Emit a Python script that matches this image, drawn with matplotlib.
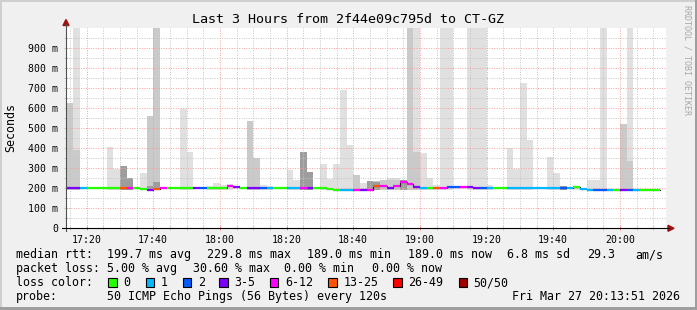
import numpy as np
import matplotlib.pyplot as plt
from matplotlib.patches import Rectangle, Polygon
from matplotlib.lines import Line2D

# 2-minute steps, minutes after midnight (17:14 .. 20:12)
times = np.arange(17 * 60 + 14, 20 * 60 + 12, 2)

median = [200, 200, 200, 200, 200, 200, 200, 200, 200, 200,
          200, 197, 190, 197, 200, 200, 200, 200, 200, 200,
          200, 200, 200, 200, 211, 206, 200, 200, 200, 200,
          200, 200, 200, 200, 200, 200, 200, 200, 200, 197,
          193, 191, 191, 191, 193, 193, 213, 213, 203, 213,
          231, 223, 208, 203, 203, 203, 203, 208, 208, 208,
          206, 203, 203, 203, 203, 203, 203, 203, 203, 203,
          203, 203, 203, 203, 203, 203, 208, 196, 193, 193,
          193, 193, 193, 193, 193, 193, 193, 193, 193]

loss = [3, 3, 1, 0, 0, 0, 0, 0, 5, 4,
        0, 0, 3, 5, 4, 0, 0, 0, 0, 3,
        2, 0, 0, 0, 4, 3, 0, 3, 3, 2,
        1, 0, 0, 1, 1, 4, 3, 0, 0, 0,
        0, 1, 1, 4, 3, 4, 5, 4, 3, 4,
        4, 4, 3, 1, 0, 5, 4, 2, 2, 4,
        3, 3, 2, 1, 0, 0, 1, 1, 1, 1,
        1, 1, 1, 1, 2, 1, 0, 1, 1, 2,
        2, 1, 0, 3, 2, 1, 0, 0, 0]

smoke_light = [0, 1000, 0, 0, 0, 0, 405, 296, 0, 0,
               0, 275, 0, 0, 0, 0, 0, 596, 382, 0,
               0, 210, 226, 215, 222, 0, 0, 0, 0, 215,
               210, 0, 0, 292, 242, 0, 0, 0, 319, 248,
               319, 692, 417, 0, 228, 0, 0, 0, 252, 252,
               0, 0, 1000, 378, 253, 214, 1000, 1000, 0, 0,
               1000, 1000, 1000, 218, 0, 0, 403, 296, 725, 442,
               0, 0, 358, 277, 0, 0, 211, 0, 240, 240,
               1000, 0, 0, 0, 1000, 0, 0, 0, 0]

smoke_mid = [625, 390, 0, 0, 0, 0, 0, 0, 0, 0,
             0, 0, 560, 1000, 0, 0, 0, 0, 0, 0,
             0, 0, 0, 0, 0, 0, 0, 535, 351, 0,
             0, 0, 0, 0, 0, 0, 0, 0, 0, 0,
             0, 0, 0, 268, 0, 0, 237, 240, 242, 240,
             0, 1000, 380, 0, 0, 0, 0, 0, 0, 0,
             0, 0, 0, 0, 0, 0, 0, 0, 0, 0,
             0, 0, 0, 0, 0, 0, 0, 0, 0, 0,
             0, 0, 0, 520, 337, 0, 0, 0, 0]

smoke_dark = [0, 0, 0, 0, 0, 0, 0, 0, 313, 253,
              0, 0, 212, 231, 0, 0, 0, 0, 0, 0,
              0, 0, 0, 0, 0, 0, 0, 0, 0, 0,
              0, 0, 0, 0, 0, 382, 282, 0, 0, 0,
              0, 0, 0, 0, 0, 237, 231, 0, 0, 0,
              242, 0, 0, 0, 0, 0, 0, 0, 0, 0,
              0, 0, 0, 0, 0, 0, 0, 0, 0, 0,
              0, 0, 0, 0, 210, 0, 0, 0, 0, 0,
              0, 0, 0, 0, 0, 0, 0, 0, 0]

loss_labels = ["0", "1", "2", "3-5", "6-12", "13-25", "26-49", "50/50"]
loss_colors = ["#26ff00", "#00b8ff", "#0059ff", "#7e00ff",
               "#ff00ff", "#ff5500", "#ff0000", "#a10000"]

W, H = 697, 310
MONO = "DejaVu Sans Mono"


def fx(x):
    return x / W


def fy(y):
    return 1 - y / H


fig = plt.figure(figsize=(W / 100, H / 100), dpi=100, facecolor="#f0f0f0")
ax = fig.add_axes([fx(66), fy(228.3), 600 / W, 200.3 / H])
ax.set_facecolor("white")

# smoke
base = 190
for arr, col in [(smoke_light, "#e0e0e0"), (smoke_mid, "#cacaca"), (smoke_dark, "#9d9d9d")]:
    arr = np.array(arr, dtype=float)
    m = arr > 0
    ax.bar(times[m], arr[m] - base, bottom=base, width=2, align="edge",
           color=col, linewidth=0, zorder=1)

# median line
med = np.array(median, dtype=float)
ax.step(np.r_[times, times[-1] + 2], np.r_[med, med[-1]], where="post",
        color="#202020", lw=0.8, zorder=3)
ax.hlines(med, times, times + 2, colors=[loss_colors[i] for i in loss],
          lw=1.6, zorder=4)

ax.set_xlim(17 * 60 + 13 + 51 / 60, 20 * 60 + 13 + 51 / 60)
ax.set_ylim(0, 1000)

xt = np.arange(17 * 60 + 20, 20 * 60 + 1, 20)
ax.set_xticks(xt)
ax.set_xticklabels(["%d:%02d" % (t // 60, t % 60) for t in xt])
ax.set_xticks(np.arange(17 * 60 + 15, 20 * 60 + 14, 5), minor=True)
yt = np.arange(0, 1000, 100)
ax.set_yticks(yt)
ax.set_yticklabels(["0"] + ["%d m" % v for v in yt[1:]])
ax.set_yticks(np.arange(50, 1000, 100), minor=True)

ax.set_axisbelow(False)
ax.grid(which="minor", color="#c4c4c4", linestyle=(0, (1, 1.5)), lw=0.7)
ax.grid(which="major", color="#f4a0a0", linestyle=(0, (1, 1.5)), lw=0.7)
for s in ax.spines.values():
    s.set_visible(False)
ax.tick_params(which="both", direction="inout", length=3, width=0.7,
               labelsize=7.1, colors="#c4c4c4", labelcolor="black")
ax.tick_params(axis="x", which="major", colors="#f08080", labelcolor="black", pad=3)
ax.tick_params(axis="y", which="major", pad=4)
for lab in ax.get_xticklabels() + ax.get_yticklabels():
    lab.set_family(MONO)

# axes lines and arrows
fig.add_artist(Line2D([fx(66), fx(66)], [fy(231), fy(24)], color="#505050", lw=0.8))
fig.add_artist(Line2D([fx(62), fx(669)], [fy(228.3), fy(228.3)], color="black", lw=0.8))
fig.add_artist(Polygon([[fx(63), fy(25.5)], [fx(69), fy(25.5)], [fx(66), fy(19.5)]],
                       closed=True, color="#a01010"))
fig.add_artist(Polygon([[fx(668), fy(225.3)], [fx(668), fy(231.3)], [fx(674), fy(228.3)]],
                       closed=True, color="#a01010"))

# frame shading
fig.add_artist(Rectangle((0, fy(2)), 1, 2 / H, color="#cfcfcf", lw=0))
fig.add_artist(Rectangle((0, 0), fx(2), 1, color="#cfcfcf", lw=0))
fig.add_artist(Rectangle((0, 0), 1, 3 / H, color="#9e9e9e", lw=0))
fig.add_artist(Rectangle((fx(695), 0), 2 / W, 1, color="#9e9e9e", lw=0))

fig.text(fx(348), fy(23.3), "Last 3 Hours from 2f44e09c795d to CT-GZ",
         family=MONO, fontsize=9.6, ha="center", va="baseline")
fig.text(fx(11), fy(127), "Seconds", family=MONO, fontsize=8.4,
         rotation=90, ha="center", va="center")
fig.text(fx(687), fy(60), "RRDTOOL / TOBI OETIKER", family=MONO, fontsize=6,
         rotation=270, ha="center", va="center", color="#a8a8a8")

rows = [
    (258.3, [(16, "median rtt:"), (107.3, "199.7 ms avg"), (207.3, "229.8 ms max"),
             (306.7, "189.0 ms min"), (407.7, "189.0 ms now"), (506.7, "6.8 ms sd"),
             (586.7, "29.3"), (635, "am/s")]),
    (272.3, [(16, "packet loss:"), (107.3, "5.00 % avg"), (193, "30.60 % max"),
             (284, "0.00 % min"), (372, "0.00 % now")]),
    (286.3, [(16, "loss color:")]),
    (300.3, [(16, "probe:"), (107.3, "50 ICMP Echo Pings (56 Bytes) every 120s")]),
]
for yb, segs in rows:
    for x, s in segs:
        fig.text(fx(x), fy(yb), s, family=MONO, fontsize=8.4, va="baseline")
fig.text(fx(680), fy(300.3), "Fri Mar 27 20:13:51 2026", family=MONO,
         fontsize=8.4, va="baseline", ha="right")

box_x = [108.3, 145.7, 182.7, 219.3, 270, 328.3, 393.3, 458.7]
for bx, lab, col in zip(box_x, loss_labels, loss_colors):
    fig.add_artist(Rectangle((fx(bx), fy(286.7)), 8.3 / W, 8.3 / H,
                             facecolor=col, edgecolor="black", lw=0.8))
    fig.text(fx(bx + 15), fy(286.3), lab, family=MONO, fontsize=8.4, va="baseline")

fig.savefig("out.png", dpi=100, facecolor=fig.get_facecolor())
